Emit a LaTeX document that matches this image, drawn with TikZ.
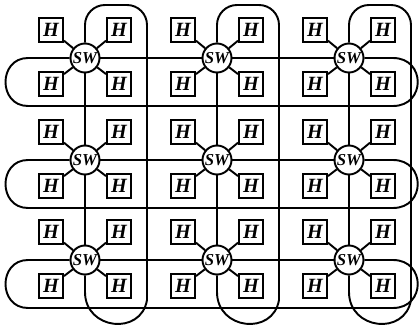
\documentclass[tikz,border=0pt]{standalone}
\usepackage{fontspec}
\setmainfont{Liberation Serif}
\usepackage{tikz}

\begin{document}
\begin{tikzpicture}[x=0.02cm, y=-0.02cm, line width=1.1pt,
    sw/.style={circle, draw, fill=white, minimum size=0.58cm, inner sep=0pt, font=\fontsize{9.5}{10}\selectfont\bfseries\itshape},
    host/.style={rectangle, draw, fill=white, minimum size=0.48cm, inner sep=0pt, font=\fontsize{11.5}{12}\selectfont\bfseries\itshape}]

    \useasboundingbox (0,0) rectangle (420,328);

    % Switches with their four hosts
    \foreach \r/\y in {1/58, 2/160, 3/260} {
        \foreach \c/\x in {1/85, 2/217, 3/349} {
            \node[sw] (sw\r\c) at (\x,\y) {SW};
            \node[host] (h\r\c-nw) at (\x-34,\y-28) {H};
            \node[host] (h\r\c-ne) at (\x+34,\y-28) {H};
            \node[host] (h\r\c-sw) at (\x-34,\y+26) {H};
            \node[host] (h\r\c-se) at (\x+34,\y+26) {H};
            \draw (h\r\c-nw) -- (sw\r\c);
            \draw (h\r\c-ne) -- (sw\r\c);
            \draw (h\r\c-sw) -- (sw\r\c);
            \draw (h\r\c-se) -- (sw\r\c);
        }
    }

    % Mesh links
    \foreach \r in {1,2,3} {
        \draw (sw\r1) -- (sw\r2) -- (sw\r3);
    }
    \foreach \c in {1,2,3} {
        \draw (sw1\c) -- (sw2\c) -- (sw3\c);
    }

    % Wrap-around links of the rows
    \foreach \r/\y in {1/58, 2/160, 3/260} {
        \draw (sw\r3.east) -- (393,\y) .. controls (426,\y) and (426,\y+48) .. (393,\y+48)
            -- (28,\y+48) .. controls (-2,\y+48) and (-2,\y) .. (28,\y) -- (sw\r1.west);
    }

    % Wrap-around links of the columns
    \foreach \c/\x in {1/85, 2/217, 3/349} {
        \draw (sw3\c.south) -- (\x,292) .. controls (\x,330) and (\x+56,336) .. (\x+62,300)
            [rounded corners=0.4cm] -- (\x+62,5) -- (\x,5) -- (sw1\c.north);
    }
\end{tikzpicture}
\end{document}
